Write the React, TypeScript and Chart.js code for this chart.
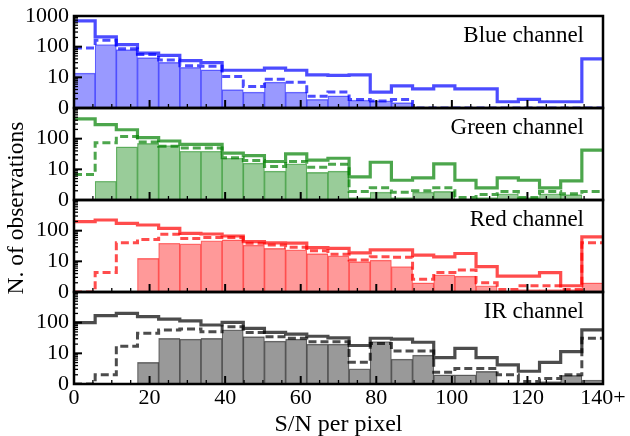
import React, { useEffect, useRef } from 'react';
import { Chart, registerables } from 'chart.js';

Chart.register(...registerables);

// S/N bin edges (25 bins, last bin = 140+)
const binEdges = [0, 5.6, 11.2, 16.8, 22.4, 28, 33.6, 39.2, 44.8, 50.4, 56, 61.6, 67.2, 72.8, 78.4, 84, 89.6, 95.2, 100.8, 106.4, 112, 117.6, 123.2, 128.8, 134.4, 140];

// x tick labels
const xTickValues = [0, 20, 40, 60, 80, 100, 120, 140];
const xTickLabels = ['0', '20', '40', '60', '80', '100', '120', '140+'];
const yLabelValues = [1, 10, 100, 1000];
const yLabelTexts = ['0', '10', '100', '1000'];

// Blue channel
const blueSolid = [692, 208, 116, 62, 52, 35, 30, 17, 17, 20, 17, 12, 11.5, 12, 3.3, 5.3, 4.2, 5.3, 4.2, 4.2, 1.6, 1.9, 1.6, 1.6, 40];
const blueDashed = [91, 161, 86, 56, 37, 24, 23, 10.6, 5, 8.7, 6.9, 2.4, 3.3, 1.9, 1.7, 1.9, 0, 0, 0, 0, 0, 0, 0, 0, 0];
const blueBars = [13.7, 116, 80, 44, 31, 21, 17.6, 4, 3.3, 7, 3.3, 1.9, 2.5, 1.8, 1.7, 1.5, 0, 0, 0, 0, 0, 0, 0, 0, 0];

// Green channel
const greenSolid = [440, 285, 195, 108, 84, 65, 65, 34, 28, 18, 32, 20, 23, 5.7, 17, 4.4, 5.3, 15, 4.4, 2.5, 5.3, 4.4, 2.5, 4.2, 42];
const greenDashed = [6.8, 73, 117, 78, 57, 50, 50, 24, 19.5, 12.3, 18, 11.6, 14.7, 1.9, 2.5, 1.8, 2.0, 2.5, 1.2, 1.5, 1.9, 1.2, 1.9, 1.6, 1.9];
const greenBars = [0, 4.1, 54, 70, 60, 39, 39, 23, 16, 8.8, 15, 8, 8.8, 1.2, 1.8, 1.2, 1.8, 1.9, 0, 1.2, 1.6, 1.2, 1.6, 1.5, 0];

// Red channel
const redSolid = [196, 223, 174, 153, 119, 82, 78, 67, 44, 40, 39, 28, 26.5, 19, 23.5, 23.5, 16, 14, 18, 6.7, 3.3, 3.3, 4.3, 1.6, 63];
const redDashed = [0, 4.3, 40, 52, 76, 56, 60, 60, 39, 34, 29, 22, 17, 11, 14, 13.5, 2.6, 4.3, 5.2, 2.0, 1.2, 1.6, 1.6, 1.2, 40];
const redBars = [0, 0, 0, 12.5, 39, 37, 47, 50, 34, 26.5, 23.5, 18, 15, 9.8, 11, 6.7, 2.0, 3.6, 3.3, 1.6, 0, 1.2, 1.2, 1.2, 2.0];

// IR channel
const irSolid = [100, 169, 202, 157, 131, 114, 84, 102, 65, 48, 42, 36, 32, 18, 31, 29, 23, 7.2, 14.5, 7.2, 4.2, 2.6, 5.1, 11.3, 58];
const irDashed = [0, 2.0, 17, 45, 58, 62, 51, 74, 48, 35, 31, 24, 24, 5.1, 21, 12, 12, 2.4, 3.2, 3.2, 2.0, 1.2, 1.5, 2.0, 31];
const irBars = [0, 0, 0, 5.1, 31, 29, 31, 58, 35, 25, 29, 20, 20, 3.1, 24, 6.5, 8.8, 2.0, 2.0, 2.6, 1.1, 0, 1.2, 1.9, 1.35];

const channels = [
  { id: 'yB', name: 'Blue channel', rgb: '0,0,255', solid: blueSolid, dashed: blueDashed, bars: blueBars, showTop: true, weight: 4 },
  { id: 'yG', name: 'Green channel', rgb: '0,128,0', solid: greenSolid, dashed: greenDashed, bars: greenBars, showTop: false, weight: 3 },
  { id: 'yR', name: 'Red channel', rgb: '255,0,0', solid: redSolid, dashed: redDashed, bars: redBars, showTop: false, weight: 2 },
  { id: 'yI', name: 'IR channel', rgb: '0,0,0', solid: irSolid, dashed: irDashed, bars: irBars, showTop: false, weight: 1 },
];

const SERIF = "'Liberation Serif', 'Times New Roman', serif";

const minorLogTicks = [1, 2, 3, 4, 5, 6, 7, 8, 9, 10, 20, 30, 40, 50, 60, 70, 80, 90, 100, 200, 300, 400, 500, 600, 700, 800, 900, 1000];

function stepPoints(vals: number[]) {
  return binEdges.map((e, i) => ({ x: e, y: Math.max(1, vals[Math.min(i, vals.length - 1)]) }));
}

function barPoints(vals: number[]) {
  return vals.map((v, i) => ({ x: (binEdges[i] + binEdges[i + 1]) / 2, y: v > 1 ? v : null }));
}

const decorPlugin = {
  id: 'decor',
  afterDatasetsDraw(chart: any) {
    const ctx = chart.ctx as CanvasRenderingContext2D;
    const { left, right } = chart.chartArea;
    const xs = chart.scales.x;
    ctx.save();
    ctx.strokeStyle = '#000';
    ctx.fillStyle = '#000';
    channels.forEach((ch) => {
      const s = chart.scales[ch.id];
      const top = s.top;
      const bottom = s.bottom;
      // x ticks (inward, bottom of each panel)
      for (let v = 0; v <= 140; v += 5) {
        const px = xs.getPixelForValue(v);
        const major = v % 20 === 0 || v === 140;
        ctx.lineWidth = major ? 2 : 1.3;
        ctx.beginPath();
        ctx.moveTo(px, bottom);
        ctx.lineTo(px, bottom - (major ? 8 : 4));
        ctx.stroke();
      }
      // y ticks (inward, left)
      minorLogTicks.forEach((v) => {
        const py = s.getPixelForValue(v);
        const major = v === 1 || v === 10 || v === 100 || v === 1000;
        ctx.lineWidth = major ? 2 : 1.3;
        ctx.beginPath();
        ctx.moveTo(left, py);
        ctx.lineTo(left + (major ? 8 : 4), py);
        ctx.stroke();
      });
      // frame
      ctx.lineWidth = 2.5;
      ctx.strokeRect(left, top, right - left, bottom - top);
      // panel label
      ctx.font = `23px ${SERIF}`;
      ctx.textAlign = 'right';
      ctx.textBaseline = 'middle';
      ctx.fillText(ch.name, right - 19, top + 20);
    });
    // y title
    ctx.translate(16.5, 208);
    ctx.rotate(-Math.PI / 2);
    ctx.font = `23.5px ${SERIF}`;
    ctx.textAlign = 'center';
    ctx.textBaseline = 'middle';
    ctx.fillText('N. of observations', 0, 0);
    ctx.restore();
  },
};

export default function App() {
  const ref = useRef<HTMLCanvasElement>(null);
  useEffect(() => {
    document.body.style.margin = '0';
    const datasets: any[] = [];
    channels.forEach((ch) => {
      datasets.push({
        type: 'bar',
        xAxisID: 'x',
        yAxisID: ch.id,
        data: barPoints(ch.bars),
        backgroundColor: `rgba(${ch.rgb},0.4)`,
        borderColor: `rgba(${ch.rgb},0.5)`,
        borderWidth: { top: 0.8, left: 0.5, right: 0.5, bottom: 0 },
        grouped: false,
        barPercentage: 1,
        categoryPercentage: 1,
        order: 3,
      });
      datasets.push({
        type: 'line',
        xAxisID: 'x',
        yAxisID: ch.id,
        data: stepPoints(ch.dashed),
        stepped: true,
        borderColor: `rgba(${ch.rgb},0.7)`,
        borderWidth: 3,
        borderDash: [8, 4],
        pointRadius: 0,
        fill: false,
        order: 2,
      });
      datasets.push({
        type: 'line',
        xAxisID: 'x',
        yAxisID: ch.id,
        data: stepPoints(ch.solid),
        stepped: true,
        borderColor: `rgba(${ch.rgb},0.7)`,
        borderWidth: 3.2,
        pointRadius: 0,
        fill: false,
        order: 1,
      });
    });

    const scales: any = {
      x: {
        type: 'linear',
        position: 'bottom',
        min: 0,
        max: 140,
        offset: false,
        grid: { display: false, drawTicks: false },
        border: { display: false },
        afterBuildTicks: (s: any) => {
          s.ticks = xTickValues.map((v) => ({ value: v }));
        },
        ticks: {
          autoSkip: false,
          maxRotation: 0,
          minRotation: 0,
          padding: 1,
          color: '#000',
          font: { family: SERIF, size: 22 },
          callback: (v: number) => {
            const i = xTickValues.indexOf(v);
            return i >= 0 ? xTickLabels[i] : '';
          },
        },
        title: {
          display: true,
          text: 'S/N per pixel',
          color: '#000',
          font: { family: SERIF, size: 24, lineHeight: 0.9 },
          padding: { top: 0, bottom: 0 },
        },
        afterFit: (s: any) => {
          s.height = 52;
          s.paddingLeft = 0;
          s.paddingRight = 0;
        },
      },
    };
    channels.forEach((ch) => {
      scales[ch.id] = {
        type: 'logarithmic',
        position: 'left',
        stack: 'panels',
        stackWeight: 1,
        weight: ch.weight,
        min: 1,
        max: 1000,
        offset: false,
        grid: { display: false, drawTicks: false },
        border: { display: false },
        afterBuildTicks: (s: any) => {
          s.ticks = yLabelValues.map((v) => ({ value: v }));
        },
        ticks: {
          autoSkip: false,
          padding: 5,
          color: '#000',
          font: { family: SERIF, size: 22 },
          callback: (v: number) => {
            if (v === 1000 && !ch.showTop) return '';
            const i = yLabelValues.indexOf(v);
            return i >= 0 ? yLabelTexts[i] : '';
          },
        },
        afterFit: (s: any) => {
          s.width = 74;
          s.paddingTop = 0;
          s.paddingBottom = 0;
        },
      };
    });

    const chart = new Chart(ref.current as HTMLCanvasElement, {
      type: 'bar',
      data: { datasets },
      options: {
        responsive: false,
        animation: false,
        events: [],
        layout: { autoPadding: false, padding: { left: 0, right: 27, top: 16, bottom: 0 } },
        plugins: { legend: { display: false }, tooltip: { enabled: false } },
        scales,
      } as any,
      plugins: [decorPlugin],
    });
    return () => chart.destroy();
  }, []);
  return <canvas ref={ref} width={630} height={436} style={{ display: 'block' }} />;
}
